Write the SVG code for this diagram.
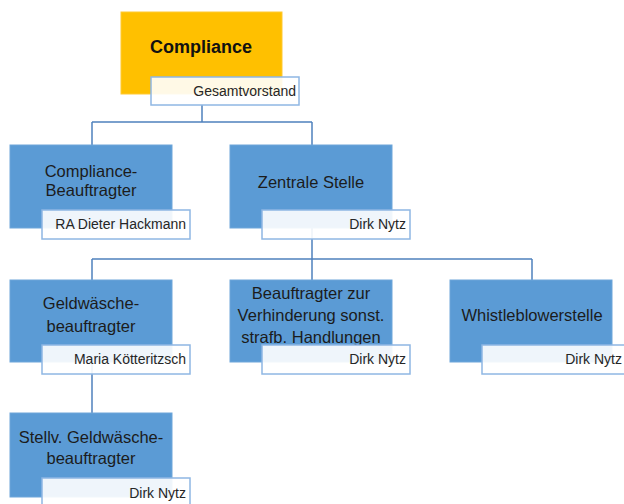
<svg xmlns="http://www.w3.org/2000/svg" width="624" height="504" viewBox="0 0 624 504">
<style>
.bg{fill:#ffffff}
.conn{stroke:#4f81bd;stroke-width:1.5;fill:none}
.box{fill:#5b9bd5;stroke:#6ea6da;stroke-width:1}
.top{fill:#ffc000;stroke:#ffc933;stroke-width:1}
.lab{fill:#ffffff;fill-opacity:0.9;stroke:#8fb7e3;stroke-width:1.5}
.t{font-family:"Liberation Sans",Arial,sans-serif;font-size:16.5px;fill:#1c1c1c;text-anchor:middle}
.tb{font-family:"Liberation Sans",Arial,sans-serif;font-size:18px;font-weight:bold;fill:#111111;text-anchor:middle}
.l{font-family:"Liberation Sans",Arial,sans-serif;font-size:14px;fill:#262626;text-anchor:end}
</style>
<rect class="bg" x="0" y="0" width="624" height="504"/>
<g id="connectors">
<path class="conn" d="M202 105 V122 M92 122 H312 M92 122 V145 M312 122 V145"/>
<path class="conn" d="M312 228 V259 M92 259 H532 M92 259 V280 M312 259 V280 M532 259 V280"/>
<path class="conn" d="M92 362 V413"/>
</g>
<g id="compliance">
<rect class="top" x="121" y="12" width="161" height="82"/>
<text class="tb" x="201" y="53">Compliance</text>
<rect class="lab" x="151" y="77" width="148" height="28"/>
<text class="l" x="296" y="96">Gesamtvorstand</text>
</g>
<g id="compliance-beauftragter">
<rect class="box" x="10" y="145" width="162" height="83"/>
<text class="t" x="91" y="177">Compliance-</text>
<text class="t" x="91" y="196">Beauftragter</text>
<rect class="lab" x="42" y="210" width="148" height="29"/>
<text class="l" x="186" y="229">RA Dieter Hackmann</text>
</g>
<g id="zentrale-stelle">
<rect class="box" x="230" y="145" width="162" height="83"/>
<text class="t" x="311" y="188">Zentrale Stelle</text>
<rect class="lab" x="262" y="210" width="148" height="29"/>
<text class="l" x="406" y="229">Dirk Nytz</text>
</g>
<g id="geldwaesche">
<rect class="box" x="10" y="280" width="162" height="82"/>
<text class="t" x="91" y="309">Geldwäsche-</text>
<text class="t" x="91" y="332">beauftragter</text>
<rect class="lab" x="42" y="345" width="148" height="29"/>
<text class="l" x="186" y="364">Maria Kötteritzsch</text>
</g>
<g id="beauftragter-verhinderung">
<rect class="box" x="230" y="280" width="162" height="82"/>
<text class="t" x="311" y="299">Beauftragter zur</text>
<text class="t" x="311" y="321">Verhinderung sonst.</text>
<text class="t" x="311" y="343">strafb. Handlungen</text>
<rect class="lab" x="262" y="345" width="148" height="29"/>
<text class="l" x="406" y="364">Dirk Nytz</text>
</g>
<g id="whistleblowerstelle">
<rect class="box" x="450" y="280" width="162" height="82"/>
<text class="t" x="532" y="321">Whistleblowerstelle</text>
<rect class="lab" x="482" y="345" width="148" height="29"/>
<text class="l" x="622" y="364">Dirk Nytz</text>
</g>
<g id="stellv-geldwaesche">
<rect class="box" x="10" y="413" width="162" height="84"/>
<text class="t" x="91" y="443">Stellv. Geldwäsche-</text>
<text class="t" x="91" y="464">beauftragter</text>
<rect class="lab" x="42" y="478" width="148" height="29"/>
<text class="l" x="186" y="498">Dirk Nytz</text>
</g>
</svg>
